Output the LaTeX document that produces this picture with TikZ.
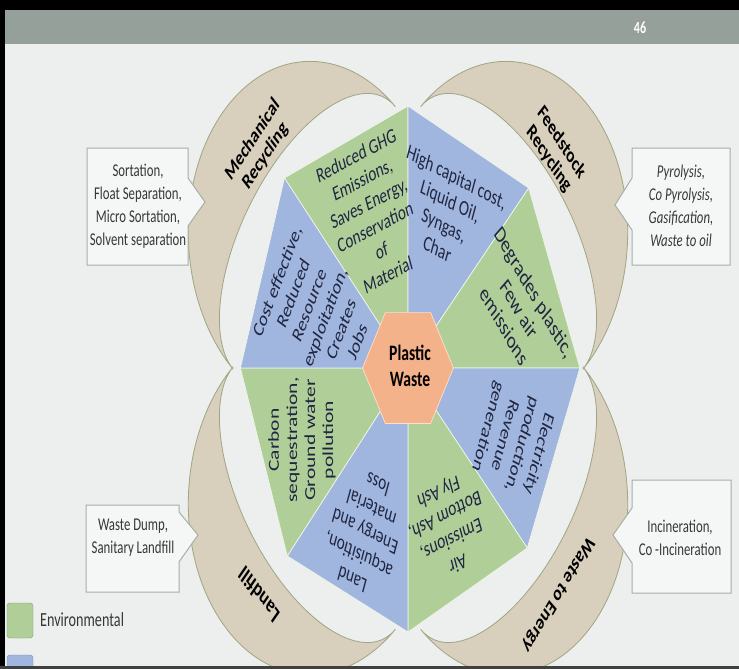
\documentclass[tikz,border=0pt]{standalone}
\usepackage{fontspec}
\setmainfont{Carlito}
\usepackage{tikz}
\usetikzlibrary{shapes}

\definecolor{pagebg}{RGB}{236,239,237}
\definecolor{headgray}{RGB}{150,160,155}
\definecolor{envgreen}{RGB}{176,206,152}
\definecolor{ecoblue}{RGB}{160,182,222}
\definecolor{hexorange}{RGB}{244,178,138}
\definecolor{moonbeige}{RGB}{216,207,188}
\definecolor{moonedge}{RGB}{160,165,132}
\definecolor{boxedge}{RGB}{165,175,165}
\definecolor{wedgeink}{RGB}{32,38,66}
\definecolor{boxink}{RGB}{55,55,55}

\tikzstyle{wedge}=[
	draw=white!80!envgreen,
	line width=0.7pt,
	line join=round
]
\tikzstyle{envwedge}=[
	wedge,
	fill=envgreen
]
\tikzstyle{ecowedge}=[
	wedge,
	fill=ecoblue
]
\tikzstyle{moon}=[
	fill=moonbeige,
	draw=moonedge,
	line width=0.8pt
]
\tikzstyle{callout}=[
	fill=white!50!pagebg,
	draw=boxedge,
	line width=1pt
]
\tikzstyle{squeeze}=[
	xscale=0.71,
	inner sep=0pt
]
\tikzstyle{wtext}=[
	squeeze,
	text=wedgeink,
	align=center,
	font=\fontsize{21.5}{25.5}\selectfont
]
\tikzstyle{btext}=[
	squeeze,
	text=boxink,
	align=center,
	font=\fontsize{18}{23}\selectfont
]
\tikzstyle{mtext}=[
	squeeze,
	align=center,
	font=\fontsize{21.5}{24}\selectfont\bfseries
]

% crescent: chord centre, outward angle
\newcommand{\moonshape}[2]{%
  \begin{scope}[shift={#1}, rotate=#2]
    \draw[moon] (0,-174) arc[start angle=-90, end angle=90, x radius=180, y radius=174]
      arc[start angle=90, end angle=-90, x radius=92, y radius=174] -- cycle;
  \end{scope}}

\begin{document}
\begin{tikzpicture}[x=1pt, y=-1pt]
\useasboundingbox (0,0) rectangle (739,669);
\fill[pagebg] (0,0) rectangle (739,669);
\fill[headgray] (0,10) rectangle (739,44);
\fill[black] (0,0) rectangle (739,10);
\fill[black] (0,0) rectangle (5,669);
\node[squeeze, text=white, font=\fontsize{17}{17}\selectfont\bfseries] (slideno) at (640,28) {46};

\begin{scope}[shift={(408,368)}, xscale=0.71]
  \moonshape{(-132,-130)}{139}
  \moonshape{(132,-130)}{41}
  \moonshape{(-132,130)}{221}
  \moonshape{(132,130)}{319}

  \coordinate (O) at (0,0);
  \coordinate (A) at (0,-262);
  \coordinate (B) at (170,-180);
  \coordinate (C) at (242,0);
  \coordinate (D) at (168,180);
  \coordinate (E) at (0,264);
  \coordinate (F) at (-170,188);
  \coordinate (G) at (-236,0);
  \coordinate (H) at (-174,-190);

  \draw[envwedge] (O) -- (H) -- (A) -- cycle;
  \draw[ecowedge] (O) -- (A) -- (B) -- cycle;
  \draw[envwedge] (O) -- (B) -- (C) -- cycle;
  \draw[ecowedge] (O) -- (C) -- (D) -- cycle;
  \draw[envwedge] (O) -- (D) -- (E) -- cycle;
  \draw[ecowedge] (O) -- (E) -- (F) -- cycle;
  \draw[envwedge] (O) -- (F) -- (G) -- cycle;
  \draw[ecowedge] (O) -- (G) -- (H) -- cycle;

  \draw[fill=hexorange, draw=white!60!hexorange, line width=0.7pt]
    (64,0) -- (32,55.4) -- (-32,55.4) -- (-64,0) -- (-32,-55.4) -- (32,-55.4) -- cycle;
\end{scope}

\node[squeeze, align=center, font=\fontsize{22}{26}\selectfont\bfseries] (waste) at (410,366) {Plastic\\Waste};

\node[wtext, font=\fontsize{21}{25.5}\selectfont, rotate=20.7] (ghg) at (372,215) {Reduced GHG\\Emissions,\\Saves Energy,\\Conservation\\of\\Material};
\node[wtext, rotate=-20.7] (capital) at (447,213) {High capital cost,\\Liquid Oil,\\Syngas,\\Char};
\node[wtext, font=\fontsize{23.5}{27}\selectfont, rotate=-50.9] (degrade) at (519,309) {Degrades plastic,\\Few air\\emissions};
\node[wtext, rotate=62] (costeff) at (317,311) {Cost effective,\\Reduced\\Resource\\exploitation,\\Creates\\Jobs};
\node[wtext, rotate=90] (carbon) at (302,440) {Carbon\\sequestration,\\Ground water\\pollution};
\node[wtext, rotate=-110.7] (power) at (513,440) {Electricity\\production,\\Revenue\\generation};
\node[wtext, rotate=200.7] (ash) at (448,527) {Air\\Emissions,\\Bottom Ash,\\Fly Ash};
\node[wtext, rotate=159.3] (landloss) at (365,532) {Land\\acquisition,\\Energy and\\material\\loss};

\node[mtext, rotate=47.5] (mech) at (259,148) {Mechanical\\Recycling};
\node[mtext, rotate=-47.5] (feed) at (555,151) {Feedstock\\Recycling};
\node[mtext, font=\fontsize{23}{24}\selectfont\bfseries, rotate=135.7] (landfill) at (259,595) {Landfill};
\node[mtext, rotate=230.3] (wte) at (558,594) {Waste to Energy};

\draw[callout] (87,148) -- (188,148) -- (188,178) -- (205,202) -- (188,226) -- (188,265) -- (87,265) -- cycle;
\node[btext] (mechlist) at (138,206) {Sortation,\\Float Separation,\\Micro Sortation,\\Solvent separation};
\draw[callout] (632,148) -- (730,148) -- (730,265) -- (632,265) -- (632,230) -- (615,205) -- (632,178) -- cycle;
\node[btext, font=\fontsize{18}{23}\selectfont\itshape] (feedlist) at (681,206) {Pyrolysis,\\Co Pyrolysis,\\Gasification,\\Waste to oil};
\draw[callout] (86,505) -- (179,505) -- (179,512) -- (198,535) -- (179,562) -- (179,592) -- (86,592) -- cycle;
\node[btext] (filllist) at (133,538) {Waste Dump,\\Sanitary Landfill};
\draw[callout] (632,480) -- (731,480) -- (731,593) -- (632,593) -- (632,563) -- (613,535) -- (632,508) -- cycle;
\node[btext] (wtelist) at (680,538) {Incineration,\\Co -Incineration};

\draw[fill=envgreen, draw=envgreen!75!black, rounded corners=3pt] (7,603) rectangle (33,638);
\node[squeeze, anchor=west, text=boxink, font=\fontsize{20}{24}\selectfont] (envkey) at (40,620) {Environmental};
\draw[fill=ecoblue, draw=ecoblue!75!black, rounded corners=3pt] (7,655) rectangle (33,690);
\node[squeeze, anchor=west, text=boxink, font=\fontsize{20}{24}\selectfont] (ecokey) at (40,674) {Economical};
\fill[black!75] (0,666) rectangle (739,669);
\end{tikzpicture}
\end{document}
